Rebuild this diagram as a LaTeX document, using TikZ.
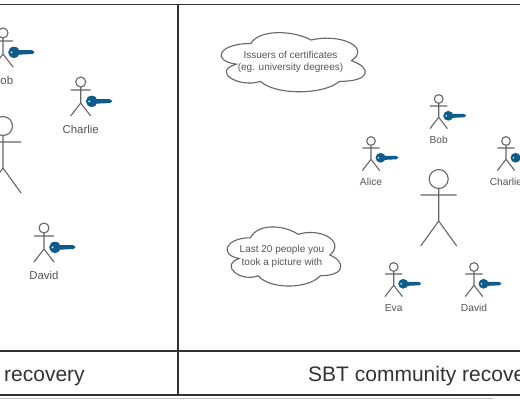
\documentclass[tikz,border=0pt]{standalone}
\usepackage{fontspec}
\setmainfont{Liberation Sans}
\usetikzlibrary{positioning}
\definecolor{KeyBlue}{HTML}{0F5C8A}
\definecolor{FigGray}{HTML}{666666}
\definecolor{LabelGray}{HTML}{555555}
\definecolor{FrameDark}{HTML}{333333}

\begin{document}
\begin{tikzpicture}[
  x=1pt, y=-1pt,
  frameline/.style={draw=FrameDark, line width=1.2pt},
  figline/.style={draw=FigGray, line width=1.1pt},
  bigname/.style={text=LabelGray, anchor=base, font=\fontsize{11.4}{13}\selectfont},
  smallname/.style={text=LabelGray, anchor=base, font=\fontsize{10.2}{12}\selectfont},
  cloudtext/.style={text=LabelGray, align=center, font=\fontsize{10}{12.5}\selectfont},
  titletext/.style={text=FrameDark, anchor=base west, inner sep=0pt, font=\fontsize{21}{25}\selectfont},
  pics/person/.style={code={
    \draw[figline] (0,0) circle[radius=5];
    \draw[figline] (0,5) -- (0,21) (-10,8) -- (10,8) (-10,34) -- (0,21) -- (10,34);
    \fill[KeyBlue] (11,19.3) ellipse[x radius=5.8, y radius=5.6];
    \fill[KeyBlue] (13,17.2) -- (29,17.2) -- (31.6,19) -- (29.5,21) -- (13,21.8) -- cycle;
    \fill[white] (8.5,19.3) circle[radius=1];
  }},
  pics/bigperson/.style={code={
    \draw[figline] (0,0) circle[radius=9.5];
    \draw[figline] (0,9.5) -- (0,42) (-18,16) -- (18,16) (-18,67) -- (0,42) -- (18,67);
  }},
  pics/cloudline/.style={code={
    \draw[figline] (.25,.25) .. controls (.05,.25) and (0,.5) .. (.16,.55)
      .. controls (0,.66) and (.18,.9) .. (.31,.8)
      .. controls (.4,1) and (.7,1) .. (.8,.8)
      .. controls (1,.8) and (1,.6) .. (.875,.5)
      .. controls (1,.3) and (.8,.1) .. (.625,.2)
      .. controls (.5,.05) and (.3,.05) .. (.25,.25) -- cycle;
  }}
]
\clip (0,0) rectangle (520,400);
\fill[white] (0,0) rectangle (520,400);

% frame
\draw[frameline] (0,4.8) -- (520,4.8);
\draw[frameline] (0,351) -- (520,351);
\draw[frameline] (0,395) -- (520,395);
\draw[frameline] (178,4.8) -- (178,395);
\draw[draw=black!25, line width=.8pt] (0,398.8) -- (493,398.8);

\node[titletext] (titleleft) at (4,381.5) {recovery};
\node[titletext] (titleright) at (308,381.5) {SBT community recovery};

% left side
\pic (bobleft) at (3,33) {person};
\node[bigname] (bobleftname) at (3,84) {Bob};
\pic (charlieleft) at (80.7,82) {person};
\node[bigname] (charlieleftname) at (80.7,133) {Charlie};
\pic (davidleft) at (44,228) {person};
\node[bigname] (davidleftname) at (44,279) {David};
\pic (ownerleft) at (3,126) {bigperson};

% right side
\pic[scale=.87] (bob) at (438.7,99) {person};
\node[smallname] (bobname) at (438.7,143) {Bob};
\pic[scale=.87] (alice) at (371,141) {person};
\node[smallname] (alicename) at (371,185) {Alice};
\pic[scale=.87] (charlie) at (506,141) {person};
\node[smallname] (charliename) at (506,185) {Charlie};
\pic[scale=.87] (eva) at (393.7,267) {person};
\node[smallname] (evaname) at (393.7,311.5) {Eva};
\pic[scale=.87] (david) at (474,267) {person};
\node[smallname] (davidname) at (474,311.5) {David};
\pic (owner) at (438.7,179) {bigperson};

% clouds
\pic[xscale=161,yscale=69] (issuers) at (210.6,26.2) {cloudline};
\node[cloudtext] (issuerstext) at (290.5,62) {Issuers of certificates\\(eg. university degrees)};
\pic[xscale=127,yscale=69] (lasttwenty) at (218.8,220.5) {cloudline};
\node[cloudtext] (lasttwentytext) at (282,256.5) {Last 20 people you\\took a picture with};
\end{tikzpicture}
\end{document}
